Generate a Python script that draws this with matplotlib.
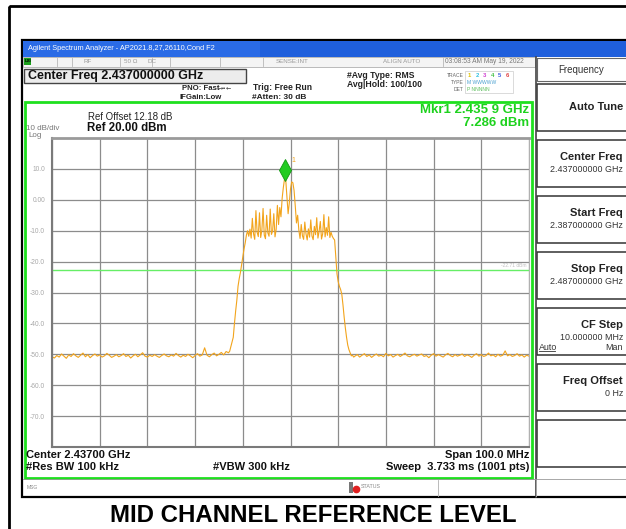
import numpy as np
import matplotlib
matplotlib.use("Agg")
import matplotlib.pyplot as plt
from matplotlib.patches import Rectangle
from matplotlib import transforms

plt.rcParams['font.family'] = ['Liberation Sans', 'DejaVu Sans']
plt.rcParams['axes.unicode_minus'] = False

# ---- data ----
start_mhz = 2387.0
stop_mhz = 2487.0
ref_level = 20.0
db_per_div = 10.0
display_line = -22.71
mkr_freq = 2435.9
mkr_level = 7.286

# noise floor below the channel, 2387.0 .. 2423.5 MHz every 0.5 MHz
noise_lo_start, noise_lo_step = 2387.0, 0.5
noise_lo = [
    -50.8, -51.2, -50.4, -50.9, -49.9, -50.6, -51.3, -50.2, -50.7, -49.8,
    -50.5, -51.0, -50.3, -49.6, -50.8, -50.1, -51.1, -50.4, -49.9, -50.6,
    -50.2, -50.9, -50.5, -49.7, -50.3, -51.0, -50.6, -50.1, -50.8, -50.4,
    -49.8, -50.7, -50.3, -51.2, -50.5, -50.0, -50.8, -50.2, -49.5, -50.6,
    -50.9, -50.3, -50.7, -50.1, -50.6, -51.0, -50.4, -49.9, -50.5, -50.8,
    -50.2, -50.6, -49.7, -50.4, -50.9, -50.3, -50.7, -50.0, -50.5, -51.1,
    -50.4, -49.8, -50.6, -50.2, -47.9, -50.3, -50.8, -50.1, -49.6, -50.5,
    -50.0, -49.4, -50.2, -49.1,
]

# occupied channel, 2424.0 .. 2450.25 MHz every 0.25 MHz
band_start, band_step = 2424.0, 0.25
band = [
    # left skirt
    -49.5, -49.0, -47.5, -46.0, -44.5, -40.0, -36.0, -32.5, -28.0, -25.5,
    -23.5, -21.0, -18.5, -16.0, -14.0, -11.5, -10.0,
    # left plateau
    -11.8, -9.5, -12.4, -6.0, -11.0, -12.8, -3.5, -10.5, -11.9, -4.2,
    -12.2, -9.8, -2.8, -11.4, -12.6, -5.0, -10.7, -11.8, -3.0, -11.2,
    -10.1, -4.5, -12.0, -9.5, -1.8, -8.0, -2.5, -5.5,
    # centre peaks
    0.5, 4.0, 6.8, 6.5, 1.0, -4.5, -1.0, 3.5, 5.8, 5.5,
    3.0, -2.0, -7.5, -5.0,
    # right plateau
    -9.8, -12.5, -8.0, -11.6, -12.8, -7.2, -11.0, -13.0, -9.4, -12.1,
    -6.5, -11.7, -12.9, -8.6, -11.3, -5.8, -12.4, -10.2, -7.0, -12.7,
    -11.0, -4.8, -12.0, -9.0, -11.5, -5.5, -12.2, -10.5, -11.8, -12.5,
    # right skirt
    -13.0, -18.5, -24.0, -26.5, -28.0, -29.0, -30.5, -34.0, -38.0, -41.5,
    -44.5, -47.0, -48.5, -49.5, -50.5, -50.3, -50.9,
]

# noise floor above the channel, 2450.5 .. 2487.0 MHz every 0.5 MHz
noise_hi_start, noise_hi_step = 2450.5, 0.5
noise_hi = [
    -50.6, -50.1, -50.9, -50.3, -49.8, -50.7, -50.2, -51.0, -50.4, -49.9,
    -50.6, -50.3, -50.8, -49.7, -50.5, -50.1, -50.9, -50.4, -50.0, -50.7,
    -50.2, -49.6, -50.5, -50.8, -50.3, -50.0, -50.6, -50.2, -49.9, -50.7,
    -50.4, -51.1, -50.3, -49.8, -50.6, -50.1, -50.5, -50.9, -50.2, -49.7,
    -50.4, -50.8, -50.1, -50.6, -50.3, -49.9, -50.7, -50.2, -50.5, -51.0,
    -50.3, -49.8, -50.6, -50.1, -50.7, -50.4, -49.6, -50.5, -50.2, -50.8,
    -50.0, -50.6, -50.3, -48.9, -50.5, -50.1, -50.7, -50.4, -49.8, -50.6,
    -50.2, -50.9, -50.3, -50.6,
]

ytick_vals = [10, 0, -10, -20, -30, -40, -50, -60, -70]
ytick_text = ['10.0', '0.00', '-10.0', '-20.0', '-30.0', '-40.0', '-50.0', '-60.0', '-70.0']

softkeys = [
    ('Auto Tune', None),
    ('Center Freq', '2.437000000 GHz'),
    ('Start Freq', '2.387000000 GHz'),
    ('Stop Freq', '2.487000000 GHz'),
    ('CF Step', '10.000000 MHz'),
    ('Freq Offset', '0 Hz'),
    ('', None),
]

# sweep positions for each segment
f_lo = noise_lo_start + noise_lo_step * np.arange(len(noise_lo))
f_band = band_start + band_step * np.arange(len(band))
f_hi = noise_hi_start + noise_hi_step * np.arange(len(noise_hi))
freq = np.concatenate([f_lo, f_band, f_hi])
level = np.concatenate([noise_lo, band, noise_hi])

W, H = 626, 529
fig = plt.figure(figsize=(W / 100, H / 100), dpi=100)
fig.patch.set_facecolor('white')

# pixel overlay for the analyzer window
ui = fig.add_axes([0, 0, 1, 1])
ui.set_xlim(0, W)
ui.set_ylim(H, 0)
ui.axis('off')


def box(x0, y0, x1, y1, **kw):
    kw.setdefault('fill', False)
    ui.add_patch(Rectangle((x0, y0), x1 - x0, y1 - y0, **kw))


def txt(x, y, s, size=6, **kw):
    kw.setdefault('va', 'center')
    kw.setdefault('ha', 'left')
    ui.text(x, y, s, fontsize=size, **kw)


# outer page frame
box(9, 6, W + 20, H + 20, lw=2, edgecolor='black')
# screenshot frame
box(22, 40, W + 20, 497, lw=1.6, edgecolor='black', facecolor='white', fill=True)

# title bar
box(23, 41, W + 5, 57, lw=0, facecolor='#1f5fdc', fill=True)
box(23, 41, 260, 57, lw=0, facecolor='#2a6be6', fill=True)
txt(28, 49, 'Agilent Spectrum Analyzer - AP2021.8,27,26110,Cond F2', 5.3, color='white')

# status strip
box(23, 57, 535, 66.5, lw=0.6, edgecolor='#b0b0b0', facecolor='#f4f4f4', fill=True)
for sx in [57, 72, 120, 152, 170, 220, 263, 443]:
    ui.plot([sx, sx], [57.5, 66], color='#b8b8b8', lw=0.6)
box(24, 58, 31, 65, lw=0, facecolor='#1aa01a', fill=True)
txt(24.5, 61.5, 'LXI', 3.2, color='black', fontweight='bold')
txt(84, 61.7, 'RF', 4.5, color='#999999')
txt(124, 61.7, '50 Ω', 4.5, color='#999999')
txt(148, 61.7, 'DC', 4.5, color='#999999')
txt(276, 61.7, 'SENSE:INT', 4.5, color='#999999')
txt(383, 61.7, 'ALIGN AUTO', 4.5, color='#999999')
txt(445, 61.7, '03:08:53 AM May 19, 2022', 4.8, color='#777777')

# settings panel
box(24, 69, 246, 83, lw=1, edgecolor='#444444', facecolor='#ececec', fill=True)
txt(28, 76.3, 'Center Freq 2.437000000 GHz', 9, fontweight='bold', color='#111111')
txt(182, 88, 'PNO: Fast', 5.6, fontweight='bold', color='#222222')
txt(218, 88, '→•←', 4.5, color='#333333', family='DejaVu Sans')
txt(180, 97.5, 'IFGain:Low', 5.6, fontweight='bold', color='#222222')
txt(253, 87.5, 'Trig: Free Run', 6.2, fontweight='bold', color='#222222')
txt(252, 97.5, '#Atten: 30 dB', 6.0, fontweight='bold', color='#222222')
txt(347, 75, '#Avg Type: RMS', 6.2, fontweight='bold', color='#222222')
txt(347, 84.5, 'Avg|Hold: 100/100', 6.2, fontweight='bold', color='#222222')
txt(464, 75.5, 'TRACE', 3.6, ha='right', color='#666666')
txt(464, 82.5, 'TYPE', 3.6, ha='right', color='#666666')
txt(464, 89.5, 'DET', 3.6, ha='right', color='#666666')
box(465, 71, 513, 93, lw=0.5, edgecolor='#cccccc')
trace_cols = ['#e0c000', '#30c0e0', '#d040d0', '#40c040', '#4060e0', '#e04040']
for i, c in enumerate(trace_cols):
    txt(468 + i * 7.5, 75.5, str(i + 1), 4.2, color=c, fontweight='bold')
txt(467, 82.5, 'M WWWWW', 3.6, color='#4aa0d0')
txt(467, 89.5, 'P NNNNN', 3.6, color='#60c060')

# graph frame
frame_green = '#1ee01e'
box(25, 102, 532, 478, lw=2, edgecolor=frame_green)
ui.plot([536, 536], [57, 497], color='#444444', lw=1.2)

txt(529, 110, 'Mkr1 2.435 9 GHz', 9.5, ha='right', fontweight='bold', color='#1ed21e')
txt(529, 123, '7.286 dBm', 9.5, ha='right', fontweight='bold', color='#1ed21e')
txt(88, 117, 'Ref Offset 12.18 dB', 6.9, color='#222222')
txt(87, 128, 'Ref 20.00 dBm', 8.3, fontweight='bold', color='#111111')
txt(26, 129, '10 dB/div', 5.8, color='#777777')
txt(28, 135.5, 'Log', 5.8, color='#777777')

txt(26, 455, 'Center 2.43700 GHz', 8, fontweight='bold', color='#111111')
txt(26, 467.5, '#Res BW 100 kHz', 8, fontweight='bold', color='#111111')
txt(213, 467.5, '#VBW 300 kHz', 8, fontweight='bold', color='#111111')
txt(529, 455, 'Span 100.0 MHz', 8, ha='right', fontweight='bold', color='#111111')
txt(529, 467.5, 'Sweep  3.733 ms (1001 pts)', 8, ha='right', fontweight='bold', color='#111111')

# message / status bar
ui.plot([23, W], [479, 479], color='#9a9a9a', lw=0.6)
txt(27, 487.5, 'MSG', 3.6, color='#888888')
box(349, 482, 353, 493, lw=0, facecolor='#777777', fill=True)
ui.plot([356], [489], 'o', ms=4.5, color='#e02020')
txt(361, 486.5, 'STATUS', 3.8, color='#888888')
ui.plot([438, 438], [480, 496], color='#b0b0b0', lw=0.6)
ui.plot([536, 536], [480, 496], color='#b0b0b0', lw=0.6)

# softkey panel
box(537, 58, W + 5, 81, lw=0.8, edgecolor='#666666')
txt(581, 70, 'Frequency', 7, ha='center', color='#333333')
key_top = 84
key_h = 47
key_gap = 9
for i, (name, val) in enumerate(softkeys):
    y0 = key_top + i * (key_h + key_gap)
    y1 = y0 + key_h
    box(537, y0, W + 5, y1, lw=1.1, edgecolor='#333333', facecolor='white', fill=True)
    if not name:
        continue
    if val is None:
        txt(623, y0 + key_h / 2, name, 8, ha='right', fontweight='bold', color='#222222')
    else:
        txt(623, y0 + 17, name, 8, ha='right', fontweight='bold', color='#222222')
        txt(623, y0 + 30, val, 6.4, ha='right', color='#333333')
    if name == 'CF Step':
        txt(539, y0 + 39, 'Auto', 6.4, color='#333333')
        ui.plot([539, 555], [y0 + 43, y0 + 43], color='#333333', lw=0.6)
        txt(623, y0 + 39, 'Man', 6.4, ha='right', color='#333333')

# caption
txt(313, 515, 'MID CHANNEL REFERENCE LEVEL', 17.3, ha='center', fontweight='bold',
    color='black')

# ---- the spectrum graticule ----
gx0, gx1, gy0, gy1 = 52, 529, 138, 447
ax = fig.add_axes([gx0 / W, 1 - gy1 / H, (gx1 - gx0) / W, (gy1 - gy0) / H])
ax.set_facecolor('white')
ax.set_xlim(start_mhz, stop_mhz)
ax.set_ylim(ref_level - 10 * db_per_div, ref_level)
ax.set_xticks(np.arange(start_mhz, stop_mhz + 0.1, 10))
ax.set_xticklabels([])
ax.set_yticks(ytick_vals)
ax.set_yticklabels(ytick_text)
ax.tick_params(axis='both', length=0)
ax.tick_params(axis='y', labelsize=4.8, labelcolor='#a8a8a8', pad=5)
ax.grid(True, color='#8c8c8c', lw=0.9)
ax.set_axisbelow(True)
ax.spines['left'].set_color('#7a7a7a')
ax.spines['left'].set_linewidth(1.5)
ax.spines['bottom'].set_color('#7a7a7a')
ax.spines['bottom'].set_linewidth(1.5)
ax.spines['top'].set_color('#9a9a9a')
ax.spines['top'].set_linewidth(2)
ax.spines['right'].set_color('#b0b0b0')
ax.spines['right'].set_linewidth(0.8)

ax.axhline(display_line, color='#66ee66', lw=1)
ax.text(stop_mhz - 0.5, display_line + 0.7, '%.2f dBm' % display_line, ha='right',
        va='bottom', fontsize=3.5, color='#c0c0c0')

ax.plot(freq, level, color='#f2a41c', lw=0.8)

# marker diamond sits just above the trace point
mk_tr = transforms.offset_copy(ax.transData, fig=fig, x=0, y=7, units='dots')
ax.plot([mkr_freq], [mkr_level], marker='d', ms=11, color='#22cc22',
        mec='#119911', mew=0.6, transform=mk_tr, clip_on=False)
lbl_tr = transforms.offset_copy(ax.transData, fig=fig, x=8, y=17, units='dots')
ax.text(mkr_freq, mkr_level, '1', fontsize=5, color='#f2a41c', transform=lbl_tr,
        ha='center', va='center')

fig.savefig('out.png', dpi=100)
